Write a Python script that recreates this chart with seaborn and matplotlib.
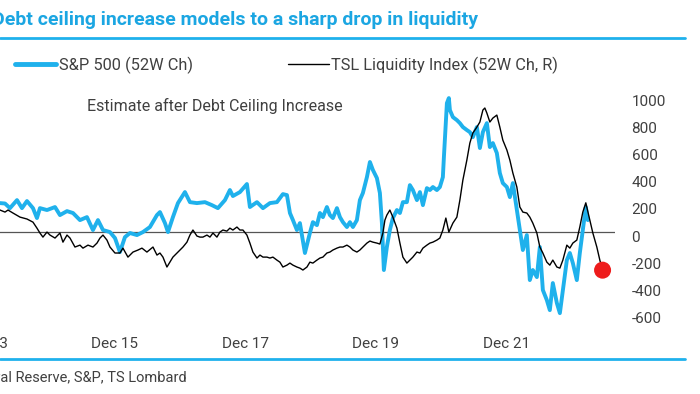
import numpy as np
import pandas as pd
import matplotlib
matplotlib.use('Agg')
import matplotlib.pyplot as plt
import seaborn as sns
from matplotlib.lines import Line2D
from matplotlib.transforms import ScaledTranslation

# S&P 500, 52W change (decimal year, value)
spx_t = [2014.03, 2014.186, 2014.263, 2014.339, 2014.447, 2014.523, 2014.600, 2014.692, 2014.753,
         2014.799, 2014.907, 2015.030, 2015.106, 2015.214, 2015.306, 2015.413, 2015.520, 2015.612,
         2015.689, 2015.766, 2015.873, 2015.950, 2016.026, 2016.103, 2016.180, 2016.287, 2016.379,
         2016.486, 2016.594, 2016.640, 2016.717, 2016.763, 2016.839, 2016.916, 2017.023, 2017.100,
         2017.207, 2017.330, 2017.437, 2017.529, 2017.637, 2017.713, 2017.759, 2017.867, 2017.974,
         2018.020, 2018.128, 2018.220, 2018.327, 2018.434, 2018.526, 2018.588, 2018.634, 2018.680,
         2018.741, 2018.787, 2018.864, 2018.940, 2018.986, 2019.048, 2019.094, 2019.140, 2019.201,
         2019.247, 2019.293, 2019.355, 2019.401, 2019.447, 2019.508, 2019.554, 2019.600, 2019.661,
         2019.707, 2019.753, 2019.815, 2019.861, 2019.907, 2019.968, 2020.014, 2020.045, 2020.075,
         2020.121, 2020.167, 2020.213, 2020.275, 2020.321, 2020.367, 2020.428, 2020.474, 2020.520,
         2020.582, 2020.628, 2020.674, 2020.735, 2020.781, 2020.827, 2020.888, 2020.934, 2020.980,
         2020.996, 2021.042, 2021.072, 2021.088, 2021.134, 2021.195, 2021.241, 2021.287, 2021.348,
         2021.394, 2021.440, 2021.502, 2021.548, 2021.594, 2021.655, 2021.701, 2021.747, 2021.808,
         2021.854, 2021.900, 2021.962, 2022.008, 2022.054, 2022.115, 2022.161, 2022.207, 2022.268,
         2022.314, 2022.360, 2022.422, 2022.468, 2022.514, 2022.575, 2022.621, 2022.667, 2022.729,
         2022.775, 2022.821, 2022.882, 2022.928, 2022.974, 2023.035, 2023.081, 2023.127, 2023.173,
         2023.204]
spx_v = [205, 213, 210, 176, 235, 176, 228, 176, 103,
         176, 162, 184, 125, 154, 140, 88, 110, 15,
         88, 15, 0, -44, -147, -37, -7, -22, 0,
         37, 125, 147, 66, 0, 110, 213, 294, 220,
         213, 220, 198, 176, 235, 309, 265, 294, 353,
         184, 220, 176, 213, 220, 279, 272, 140, 88,
         15, 66, -154, -7, 73, 51, 140, 110, 184,
         125, 103, 176, 110, 73, 37, 73, 37, 88,
         235, 287, 404, 515, 456, 397, 287, 66, -279,
         -110, 15, 103, 162, 140, 220, 220, 345, 309,
         235, 294, 198, 323, 309, 331, 309, 331, 404,
         551, 948, 985, 897, 845, 823, 801, 772, 750,
         735, 698, 772, 618, 735, 801, 625, 654, 581,
         434, 360, 331, 257, 360, 162, 15, -132, -22,
         -353, -279, -331, -110, -426, -500, -574, -375, -522,
         -596, -426, -206, -154, -228, -353, -154, 15, 184,
         88]

# TSL Liquidity Index, 52W change (decimal year, value)
liq_t = [2014.03, 2014.186, 2014.263, 2014.309, 2014.385, 2014.493, 2014.600, 2014.692, 2014.753,
         2014.799, 2014.845, 2014.907, 2014.953, 2015.030, 2015.106, 2015.152, 2015.214, 2015.260,
         2015.336, 2015.413, 2015.459, 2015.536, 2015.612, 2015.674, 2015.720, 2015.766, 2015.827,
         2015.873, 2015.950, 2016.026, 2016.072, 2016.149, 2016.226, 2016.303, 2016.364, 2016.440,
         2016.533, 2016.594, 2016.640, 2016.686, 2016.747, 2016.793, 2016.839, 2016.901, 2016.947,
         2016.993, 2017.054, 2017.100, 2017.146, 2017.207, 2017.253, 2017.299, 2017.361, 2017.407,
         2017.453, 2017.514, 2017.560, 2017.606, 2017.667, 2017.713, 2017.759, 2017.821, 2017.867,
         2017.913, 2017.974, 2018.020, 2018.066, 2018.128, 2018.174, 2018.220, 2018.281, 2018.327,
         2018.373, 2018.434, 2018.480, 2018.526, 2018.588, 2018.634, 2018.680, 2018.741, 2018.787,
         2018.833, 2018.895, 2018.940, 2018.986, 2019.048, 2019.094, 2019.140, 2019.201, 2019.247,
         2019.293, 2019.355, 2019.401, 2019.447, 2019.508, 2019.554, 2019.600, 2019.661, 2019.707,
         2019.753, 2019.815, 2019.861, 2019.907, 2019.968, 2020.014, 2020.060, 2020.091, 2020.121,
         2020.167, 2020.213, 2020.275, 2020.321, 2020.367, 2020.428, 2020.474, 2020.520, 2020.582,
         2020.628, 2020.674, 2020.735, 2020.781, 2020.827, 2020.888, 2020.934, 2020.980, 2021.026,
         2021.072, 2021.134, 2021.195, 2021.241, 2021.287, 2021.348, 2021.394, 2021.440, 2021.502,
         2021.548, 2021.594, 2021.624, 2021.655, 2021.701, 2021.747, 2021.808, 2021.854, 2021.900,
         2021.962, 2022.008, 2022.054, 2022.115, 2022.161, 2022.207, 2022.268, 2022.314, 2022.360,
         2022.422, 2022.468, 2022.514, 2022.575, 2022.621, 2022.667, 2022.729, 2022.775, 2022.821,
         2022.882, 2022.928, 2022.974, 2023.035, 2023.081, 2023.127, 2023.173, 2023.235, 2023.281,
         2023.342, 2023.388, 2023.419]
liq_v = [170, 162, 147, 162, 140, 110, 96, 73, 29,
         -7, -37, 0, -22, -44, -7, -74, -22, -44,
         -110, -96, -118, -96, -110, -81, -44, -22, -59,
         -110, -154, -154, -118, -184, -147, -132, -118, -147,
         -110, -169, -154, -184, -257, -221, -184, -154, -132,
         -110, -74, -22, 15, -29, -37, -37, -22, -37,
         -7, -37, 0, 15, 7, 29, 15, 37, 15,
         15, -22, -81, -147, -191, -169, -184, -184, -191,
         -184, -206, -221, -257, -243, -228, -243, -257, -265,
         -279, -257, -221, -228, -206, -191, -184, -154, -147,
         -132, -118, -110, -110, -96, -110, -132, -147, -132,
         -110, -81, -66, -74, -81, -88, -7, 88, 125,
         162, 110, 29, -81, -184, -228, -206, -184, -147,
         -154, -118, -96, -81, -74, -59, -44, 15, 103,
         0, 66, 110, 235, 382, 529, 654, 728, 772,
         809, 897, 912, 875, 809, 838, 860, 772, 676,
         603, 529, 434, 331, 184, 147, 140, 110, 66,
         -7, -110, -154, -221, -243, -206, -257, -265, -206,
         -96, -118, -81, -59, 37, 147, 215, 88, -7,
         -110, -206, -262]

# red marker: debt-ceiling estimate
est_t = [2023.43]
est_v = [-280]

tick_pos = [2013.95, 2015.95, 2017.95, 2019.95, 2021.95]
tick_labels = ['Dec 13', 'Dec 15', 'Dec 17', 'Dec 19', 'Dec 21']
ytick_vals = [-600, -400, -200, 0, 200, 400, 600, 800, 1000]

spx = pd.DataFrame({'t': spx_t, 'v': spx_v})
liq = pd.DataFrame({'t': liq_t, 'v': liq_v})

sns.set_style('white')
plt.rcParams['font.family'] = ['Roboto', 'DejaVu Sans']

BLUE = '#1fb1ec'
GREY = '#404040'

fig = plt.figure(figsize=(7, 3.94), dpi=100)
ax = fig.add_axes([-0.0639, 0.1624, 0.9424, 0.6218])

ax.axhline(0, color='#555555', lw=0.9, zorder=1)
sns.lineplot(data=spx, x='t', y='v', ax=ax, color=BLUE, lw=2.8, zorder=2)
sns.lineplot(data=liq, x='t', y='v', ax=ax, color='black', lw=1.0, zorder=3)
ax.scatter(est_t, est_v, s=150, color='#ee1c1c', zorder=4, edgecolor='none')

ax.set_xlim(2013.5, 2023.62)
ax.set_ylim(-720, 1081)
ax.set_xlabel('')
ax.set_ylabel('')
for s in ax.spines.values():
    s.set_visible(False)

ax.set_xticks(tick_pos)
ax.set_xticklabels(tick_labels)
ax.yaxis.tick_right()
ax.set_yticks(ytick_vals)
ax.set_yticklabels([str(v) for v in ytick_vals])
ax.tick_params(axis='x', length=0, pad=5, labelsize=11, labelcolor=GREY)
ax.tick_params(axis='y', length=0, pad=12, labelsize=11, labelcolor=GREY)
for lab in ax.get_yticklabels():
    lab.set_transform(lab.get_transform() + ScaledTranslation(0, -0.04, fig.dpi_scale_trans))

fig.text(0.124, 0.731, 'Estimate after Debt Ceiling Increase',
         fontsize=11.5, color=GREY, va='center', ha='left')

# legend
handles = [Line2D([], [], color=BLUE, lw=3.5), Line2D([], [], color='black', lw=1.0)]
fig.legend(handles, ['S&P 500 (52W Ch)', 'TSL Liquidity Index (52W Ch, R)'],
           loc='center left', bbox_to_anchor=(0.022, 0.835), ncol=2, frameon=False,
           fontsize=11.8, labelcolor=GREY, handlelength=2.5, handletextpad=0.15,
           columnspacing=5.8, borderpad=0, borderaxespad=0)

# title, rules and source
fig.text(0.683, 0.95, 'Debt ceiling increase models to a sharp drop in liquidity',
         fontsize=14, fontweight='bold', color='#1ba6e2', ha='right', va='center')
fig.add_artist(Line2D([0, 0.979], [0.903, 0.903], color=BLUE, lw=2, transform=fig.transFigure))
fig.add_artist(Line2D([0, 0.979], [0.089, 0.089], color=BLUE, lw=2, transform=fig.transFigure))
fig.text(0.266, 0.043, 'Source: Federal Reserve, S&P, TS Lombard', fontsize=10.5,
         color=GREY, ha='right', va='center')

fig.savefig('out.png', dpi=100)
